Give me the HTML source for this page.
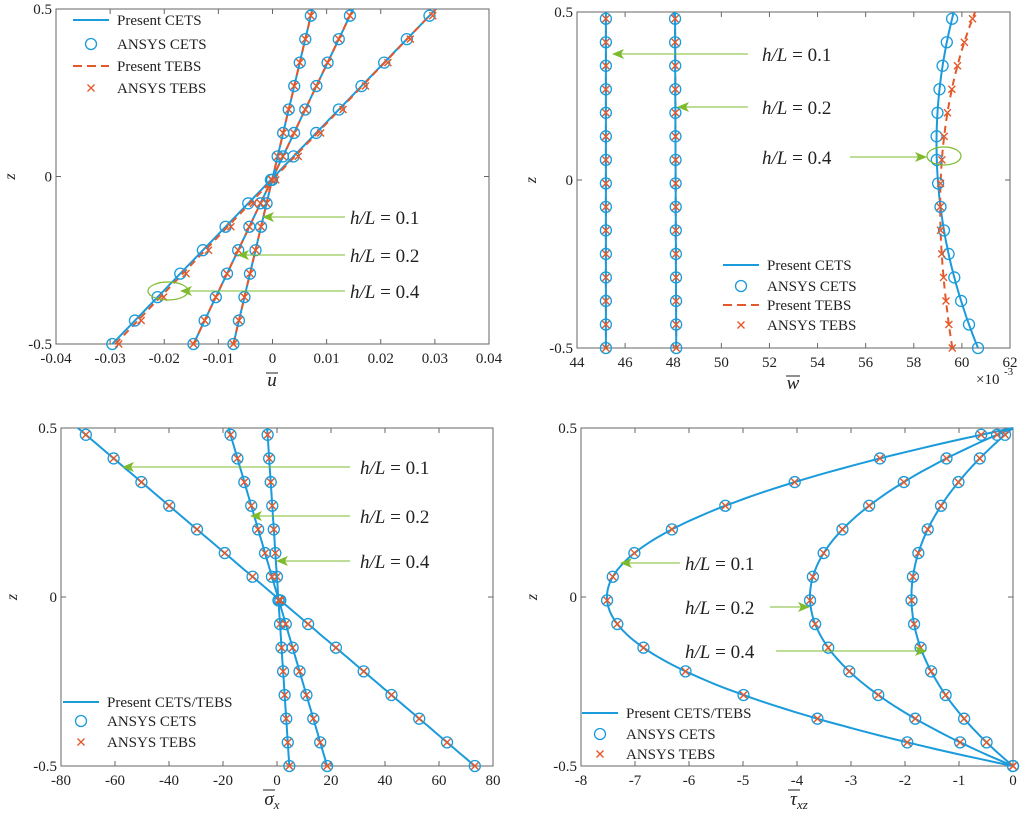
<!DOCTYPE html>
<html><head><meta charset="utf-8"><style>
body{margin:0;background:#fff}
svg{display:block}
text{font-family:"Liberation Serif",serif;fill:#222}
</style></head><body>
<svg id="s" width="1024" height="816" xmlns="http://www.w3.org/2000/svg"></svg>
<script>
const S=document.getElementById('s');let h='';
const B='#1a9bdb',O='#e5582a',G='#7dbb2c';
function ax(L,R,T,Bm,x0,x1,xt,lbls,ylx){
 h+=`<rect x="${L}" y="${T}" width="${R-L}" height="${Bm-T}" fill="none" stroke="#666" stroke-width="1"/>`;
 xt.forEach((v,i)=>{const x=L+(v-x0)/(x1-x0)*(R-L);
  h+=`<line x1="${x}" y1="${Bm}" x2="${x}" y2="${Bm-5}" stroke="#666"/><line x1="${x}" y1="${T}" x2="${x}" y2="${T+5}" stroke="#666"/>`;
  h+=`<text x="${x}" y="${Bm+19}" font-size="15" text-anchor="middle">${lbls[i]}</text>`;});
 const C=(T+Bm)/2;
 [[T,'0.5'],[C,'0'],[Bm,'-0.5']].forEach(([y,t])=>{
  h+=`<line x1="${L}" y1="${y}" x2="${L+5}" y2="${y}" stroke="#666"/><line x1="${R}" y1="${y}" x2="${R-5}" y2="${y}" stroke="#666"/>`;
  h+=`<text x="${L-4}" y="${y+5}" font-size="15" text-anchor="end">${t}</text>`;});
 h+=`<text x="${ylx}" y="${C+5}" font-size="16" font-style="italic" transform="rotate(-90 ${ylx} ${C})" text-anchor="middle">z</text>`;
 return {X:v=>L+(v-x0)/(x1-x0)*(R-L),Y:z=>C-z*(Bm-T)};
}
function curve(A,f,col,dash){let p='';for(let i=0;i<=100;i++){const z=-0.5+i/100;p+=(i?'L':'M')+A.X(f(z)).toFixed(1)+','+A.Y(z).toFixed(1);}
 h+=`<path d="${p}" fill="none" stroke="${col}" stroke-width="2" ${dash?'stroke-dasharray="7,5"':''}/>`;}
function mk(A,f,g,zs){zs.forEach(z=>{const x=A.X(f(z)),y=A.Y(z);h+=`<circle cx="${x}" cy="${y}" r="5.5" fill="none" stroke="${B}" stroke-width="1.3"/>`;
 const x2=A.X(g(z));h+=`<path d="M${x2-3.5},${y-3.5}L${x2+3.5},${y+3.5}M${x2-3.5},${y+3.5}L${x2+3.5},${y-3.5}" stroke="${O}" stroke-width="1.4"/>`;});}
const ZS=[];for(let i=0;i<15;i++)ZS.push(-0.5+i*0.07);
function ann(tx,ty,x1,x2,t){h+=`<line x1="${x1}" y1="${ty}" x2="${x2+8}" y2="${ty}" stroke="${G}" stroke-width="1"/><path d="M${x2},${ty}L${x2+12},${ty-5}L${x2+9},${ty}L${x2+12},${ty+5}Z" fill="${G}"/>`;
 h+=`<text x="${tx}" y="${ty+7}" font-size="19"><tspan font-style="italic">h/L</tspan> = ${t}</text>`;}
function annR(tx,ty,x1,x2,t){h+=`<line x1="${x1}" y1="${ty}" x2="${x2-8}" y2="${ty}" stroke="${G}" stroke-width="1"/><path d="M${x2},${ty}L${x2-12},${ty-5}L${x2-9},${ty}L${x2-12},${ty+5}Z" fill="${G}"/>`;
 h+=`<text x="${tx}" y="${ty+7}" font-size="19"><tspan font-style="italic">h/L</tspan> = ${t}</text>`;}
function leg(x,ys,items){items.forEach((it,i)=>{const y=ys[i];
 if(it[0]=='l')h+=`<line x1="${x}" y1="${y}" x2="${x+36}" y2="${y}" stroke="${it[2]}" stroke-width="2" ${it[3]?'stroke-dasharray="9,5"':''}/>`;
 if(it[0]=='o')h+=`<circle cx="${x+18}" cy="${y}" r="5.5" fill="none" stroke="${B}" stroke-width="1.3"/>`;
 if(it[0]=='x')h+=`<path d="M${x+14.5},${y-3.5}L${x+21.5},${y+3.5}M${x+14.5},${y+3.5}L${x+21.5},${y-3.5}" stroke="${O}" stroke-width="1.4"/>`;
 h+=`<text x="${x+44}" y="${y+5}" font-size="15">${it[1]}</text>`;});}

// TL
let A=ax(56,489,9,344,-0.04,0.04,[-0.04,-0.03,-0.02,-0.01,0,0.01,0.02,0.03,0.04],['-0.04','-0.03','-0.02','-0.01','0','0.01','0.02','0.03','0.04'],10);
h+=`<text x="272" y="386" font-size="19" font-style="italic" text-anchor="middle">u</text><line x1="266" y1="373" x2="278" y2="373" stroke="#222"/>`;
[0.0146,0.0295,0.0598].forEach(k=>{const f=z=>k*(z+0.005);curve(A,f,B);if(k<0.05)curve(A,f,O,1);});
curve(A,z=>0.0592*(z+0.01),O,1);
[0.0146,0.0295,0.0598].forEach((k,i)=>mk(A,z=>k*(z+0.005),z=>(i==2?0.0592*(z+0.01)+0.0006:k*(z+0.005)),ZS));
h+=`<ellipse cx="168" cy="291" rx="20" ry="9" fill="none" stroke="${G}" stroke-width="1.2"/>`;
ann(350,217,345,262,'0.1');ann(350,255,345,237,'0.2');ann(350,291,345,180,'0.4');
leg(73,[20,44,66,88],[['l','Present CETS',B],['o','ANSYS CETS'],['l','Present TEBS',O,1],['x','ANSYS TEBS']]);

// TR
A=ax(577,1010,12,348,44,62,[44,46,48,50,52,54,56,58,60,62],['44','46','48','50','52','54','56','58','60','62'],531);
h+=`<text x="793" y="389" font-size="19" font-style="italic" text-anchor="middle">w</text><line x1="786" y1="376" x2="800" y2="376" stroke="#222"/>`;
h+=`<text x="976" y="384" font-size="15">×10</text><text x="1004" y="375" font-size="11">-3</text>`;
const w1=z=>45.2,w2=z=>48.1-0.05*z,w4=z=>59.0+4.67*z*z-1.006*z,w4t=z=>59.12+0.575*z+3.82*z*z+1.5*z*z*z;
curve(A,w1,O,1);curve(A,w1,B);curve(A,w2,O,1);curve(A,w2,B);curve(A,w4,B);curve(A,w4t,O,1);
mk(A,w1,w1,ZS);mk(A,w2,w2,ZS);mk(A,w4,w4t,ZS);
h+=`<ellipse cx="944" cy="156" rx="17" ry="9" fill="none" stroke="${G}" stroke-width="1.2"/>`;
ann(762,54,748,612,'0.1');ann(762,107,748,677,'0.2');annR(762,157,850,927,'0.4');
leg(723,[265,286,305,325],[['l','Present CETS',B],['o','ANSYS CETS'],['l','Present TEBS',O,1],['x','ANSYS TEBS']]);

// BL
A=ax(61,493,428,766,-80,80,[-80,-60,-40,-20,0,20,40,60,80],['-80','-60','-40','-20','0','20','40','60','80'],12);
h+=`<text x="272" y="805" font-size="19" font-style="italic" text-anchor="middle">σ<tspan font-size="13" dy="4">x</tspan></text><line x1="263" y1="790" x2="275" y2="790" stroke="#222"/>`;
[-8.2,-36.5,-147].forEach(k=>{const f=z=>k*(z+0.005)+0.5;curve(A,f,B);mk(A,f,f,ZS);});
ann(360,467,350,122,'0.1');ann(360,516,350,250,'0.2');ann(360,561,350,276,'0.4');
leg(63,[702,721,742],[['l','Present CETS/TEBS',B],['o','ANSYS CETS'],['x','ANSYS TEBS']]);

// BR
A=ax(581,1013,428,766,-8,0,[-8,-7,-6,-5,-4,-3,-2,-1,0],['-8','-7','-6','-5','-4','-3','-2','-1','0'],532);
h+=`<text x="799" y="805" font-size="19" font-style="italic" text-anchor="middle">τ<tspan font-size="13" dy="4">xz</tspan></text><line x1="788" y1="790" x2="800" y2="790" stroke="#222"/>`;
[-7.52,-3.76,-1.88].forEach(a=>{const f=z=>a*(1-4*z*z);curve(A,f,B);mk(A,f,f,ZS);});
ann(685,563,680,620,'0.1');annR(685,607,770,810,'0.2');annR(685,651,776,927,'0.4');
leg(582,[713,734,754],[['l','Present CETS/TEBS',B],['o','ANSYS CETS'],['x','ANSYS TEBS']]);
S.innerHTML=h;
</script>
</body></html>
